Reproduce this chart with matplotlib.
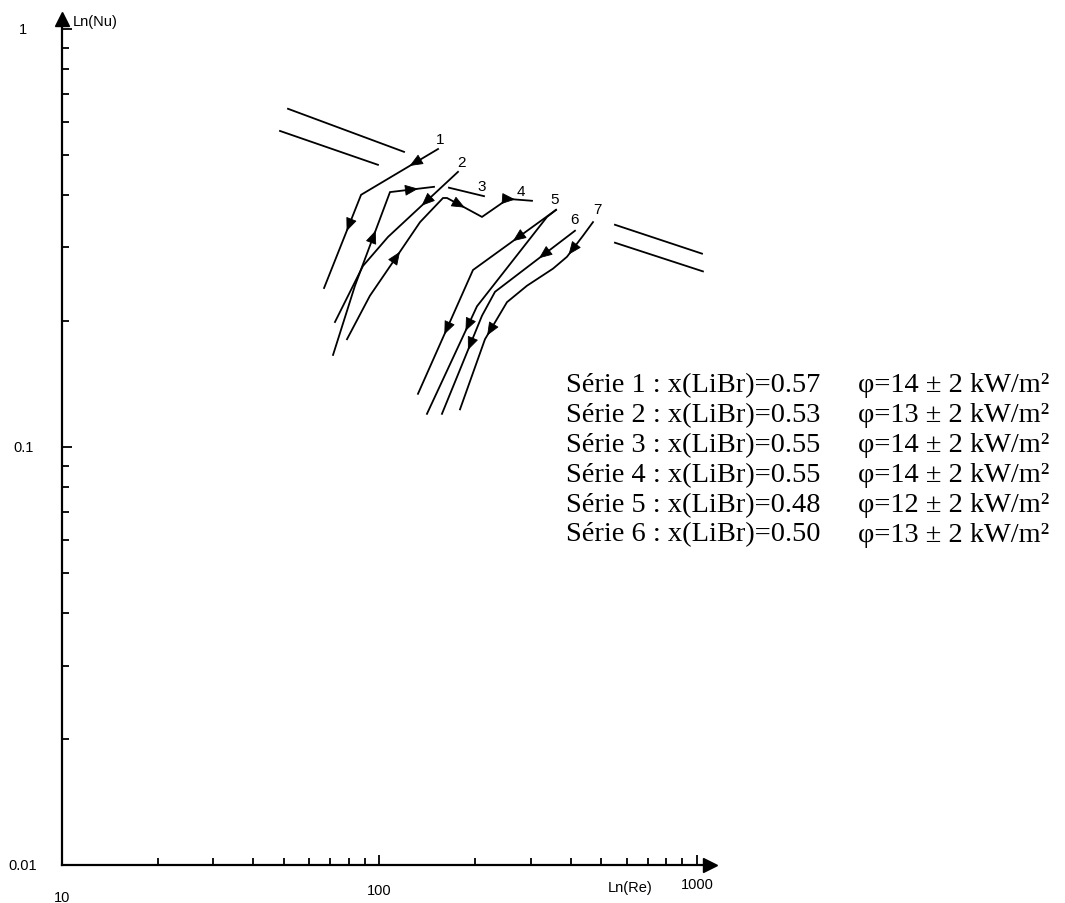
import numpy as np
import matplotlib.pyplot as plt

# curves: Re (x) and Nu (y)
c1_re = [152.9, 87.5, 66.9]
c1_nu = [0.516, 0.401, 0.240]

c2_re = [176.7, 106.4, 88.7, 72.4]
c2_nu = [0.455, 0.318, 0.271, 0.199]

c3_re = [71.4, 83.7, 107.9, 148.5]
c3_nu = [0.166, 0.243, 0.407, 0.419]
c3_tail_re = [165.5, 213.4]
c3_tail_nu = [0.417, 0.398]

c4_re = [79.0, 93.3, 113.5, 134.2, 158.5, 163.2, 210.3, 253.9, 302.2]
c4_nu = [0.181, 0.230, 0.286, 0.345, 0.394, 0.394, 0.355, 0.392, 0.388]

c5a_re = [359.7, 197.0, 132.2]
c5a_nu = [0.369, 0.265, 0.134]
c5b_re = [359.7, 337.0, 202.8, 141.1]
c5b_nu = [0.369, 0.355, 0.217, 0.120]

c6_re = [412.8, 231.1, 210.3, 157.3]
c6_nu = [0.329, 0.235, 0.206, 0.120]

c7_re = [470.4, 437.4, 389.5, 352.0, 291.4, 252.1, 214.9, 179.3]
c7_nu = [0.345, 0.320, 0.285, 0.267, 0.243, 0.222, 0.181, 0.123]

# pairs of parallel reference lines
refA_re, refA_nu = [51.5, 119.5], [0.644, 0.508]
refB_re, refB_nu = [48.6, 98.9], [0.570, 0.473]
refC_re, refC_nu = [551.6, 1037.0], [0.340, 0.290]
refD_re, refD_nu = [551.6, 1044.0], [0.308, 0.263]

# curve number labels
lab_txt = ['1', '2', '3', '4', '5', '6', '7']
lab_re = [155.0, 181.9, 210.3, 279.1, 357.1, 412.8, 484.2]
lab_nu = [0.546, 0.481, 0.421, 0.409, 0.392, 0.351, 0.371]

# legend table
serie = [1, 2, 3, 4, 5, 6]
x_libr = ['0.57', '0.53', '0.55', '0.55', '0.48', '0.50']
phi = [14, 13, 14, 14, 12, 13]


def arrow_on(ax, xs, ys, seg, t):
    lx, ly = np.log10(xs), np.log10(ys)
    def at(tt):
        return (10 ** (lx[seg] + tt * (lx[seg + 1] - lx[seg])),
                10 ** (ly[seg] + tt * (ly[seg + 1] - ly[seg])))
    ax.annotate('', xy=at(min(t + 0.05, 1)), xytext=at(max(t - 0.05, 0)),
                arrowprops=dict(arrowstyle='-|>,head_length=0.6,head_width=0.25',
                                color='black', lw=0.6, mutation_scale=14,
                                shrinkA=0, shrinkB=0))


fig = plt.figure(figsize=(10.65, 9.04), dpi=100)
ax = fig.add_axes([62 / 1065, 38 / 904, 648 / 1065, 846 / 904])
ax.set_xscale('log')
ax.set_yscale('log')
ax.set_xlim(10, 1099)
ax.set_ylim(0.01, 1.056)

for s in ['top', 'right']:
    ax.spines[s].set_visible(False)
for s in ['left', 'bottom']:
    ax.spines[s].set_linewidth(1.6)
ax.set_xticks([100, 1000])
ax.set_yticks([0.1, 1])
ax.tick_params(which='both', direction='in', width=1.3, labelbottom=False, labelleft=False)
ax.tick_params(which='major', length=7)
ax.tick_params(which='minor', length=5)
ax.plot(1, 0, '>k', transform=ax.transAxes, clip_on=False, markersize=10)
ax.plot(0, 1, '^k', transform=ax.transAxes, clip_on=False, markersize=10)

# tick labels and axis names, placed like the scan
sans = 'Liberation Sans'
tick_fs = 10.5
for val, dy in [(10, -23), (100, -18), (1000, -13.5)]:
    ax.annotate(str(val), xy=(val, 0.01), xytext=(0, dy), textcoords='offset points',
                ha='center', va='center', fontsize=tick_fs, family=sans, annotation_clip=False)
for val, lab in [(0.01, '0.01'), (0.1, '0.1'), (1, '1')]:
    ax.annotate(lab, xy=(10, val), xytext=(-28, 0), textcoords='offset points',
                ha='center', va='center', fontsize=tick_fs, family=sans, annotation_clip=False)
fig.text(630 / 1065, 1 - 888 / 904, 'Ln(Re)', ha='center', va='center', fontsize=tick_fs, family=sans)
fig.text(95 / 1065, 1 - 22 / 904, 'Ln(Nu)', ha='center', va='center', fontsize=tick_fs, family=sans)

lw = 1.3
for xs, ys in [(refA_re, refA_nu), (refB_re, refB_nu), (refC_re, refC_nu), (refD_re, refD_nu),
               (c1_re, c1_nu), (c2_re, c2_nu), (c3_re, c3_nu), (c3_tail_re, c3_tail_nu),
               (c4_re, c4_nu), (c5a_re, c5a_nu), (c5b_re, c5b_nu), (c6_re, c6_nu), (c7_re, c7_nu)]:
    ax.plot(xs, ys, color='black', lw=lw, solid_joinstyle='miter')

arrow_on(ax, c1_re, c1_nu, 0, 0.32)
arrow_on(ax, c1_re, c1_nu, 1, 0.34)
arrow_on(ax, c2_re, c2_nu, 0, 0.47)
arrow_on(ax, c3_re, c3_nu, 1, 0.54)
arrow_on(ax, c3_re, c3_nu, 2, 0.59)
arrow_on(ax, c4_re, c4_nu, 2, 0.08)
arrow_on(ax, c4_re, c4_nu, 5, 0.46)
arrow_on(ax, c4_re, c4_nu, 7, 0.25)
arrow_on(ax, c5a_re, c5a_nu, 0, 0.47)
arrow_on(ax, c5a_re, c5a_nu, 1, 0.47)
arrow_on(ax, c5b_re, c5b_nu, 2, 0.18)
arrow_on(ax, c6_re, c6_nu, 0, 0.4)
arrow_on(ax, c6_re, c6_nu, 2, 0.3)
arrow_on(ax, c7_re, c7_nu, 1, 0.85)
arrow_on(ax, c7_re, c7_nu, 5, 0.85)

for t, x, y in zip(lab_txt, lab_re, lab_nu):
    ax.text(x, y, t, ha='center', va='center', fontsize=11, family=sans)

# legend block (serif, like the pasted text in the scan)
serif = 'Liberation Serif'
for i, (n, xl, p) in enumerate(zip(serie, x_libr, phi)):
    y = 1 - (386 + i * 29.8) / 904
    fig.text(566 / 1065, y, f'Série {n} : x(LiBr)={xl}', ha='left', va='center',
             fontsize=20.4, family=serif)
    fig.text(858 / 1065, y, f'φ={p} ± 2 kW/m²', ha='left', va='center',
             fontsize=20.4, family=serif)

fig.savefig('out.png', dpi=100)
